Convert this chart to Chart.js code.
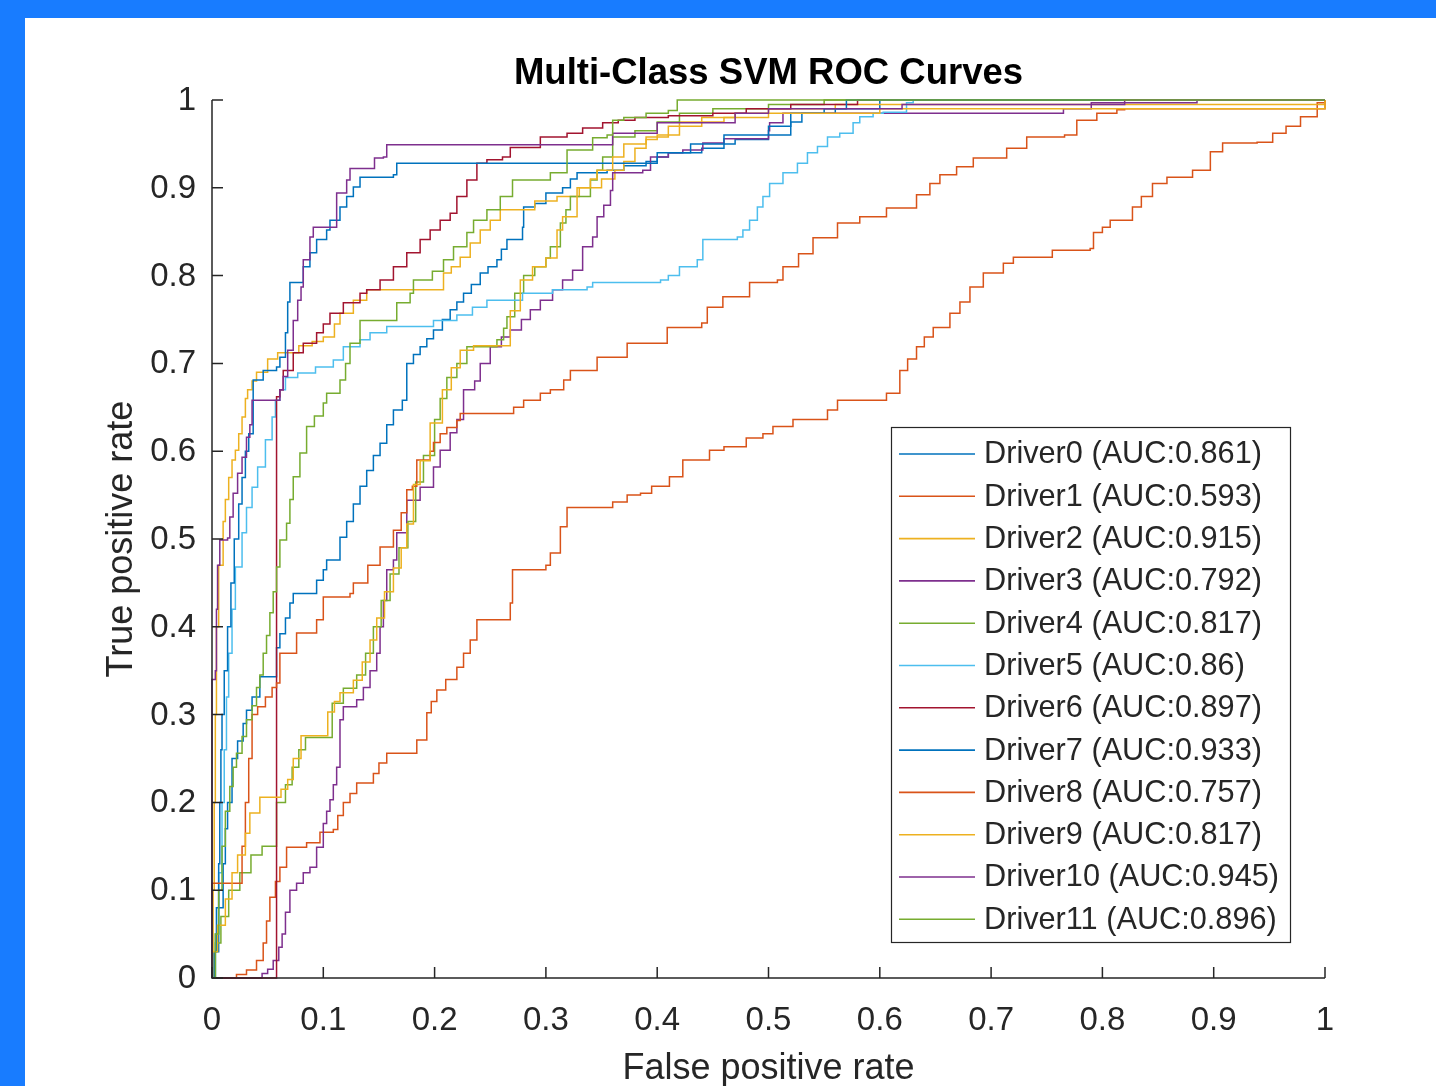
<!DOCTYPE html>
<html>
<head>
<meta charset="utf-8">
<script src="https://cdn.jsdelivr.net/npm/chart.js@4.4.0/dist/chart.umd.min.js"></script>
<style>
  html, body { margin: 0; padding: 0; background: #187cff; }
  body { width: 1436px; height: 1086px; overflow: hidden; position: relative; }
  #frame { position: absolute; left: 25px; top: 18px; width: 1411px; height: 1068px; background: #fff; }
</style>
</head>
<body>
<div id="frame"><canvas id="rocChart" width="1411" height="1068"></canvas></div>
<script>
// class names and AUC values from the legend
var driverNames = ['Driver0', 'Driver1', 'Driver2', 'Driver3', 'Driver4', 'Driver5',
                   'Driver6', 'Driver7', 'Driver8', 'Driver9', 'Driver10', 'Driver11'];
var aucValues = [0.861, 0.593, 0.915, 0.792, 0.817, 0.86, 0.897, 0.933, 0.757, 0.817, 0.945, 0.896];

// ROC points [false positive rate, true positive rate]
var roc0 = [[0,0],[0.003,0.03],[0.006,0.08],[0.01,0.13],[0.012,0.17],[0.014,0.2],[0.018,0.25],[0.023,0.27],[0.028,0.29],[0.031,0.305],[0.036,0.32],[0.043,0.343],[0.052,0.343],[0.058,0.376],[0.061,0.392],[0.066,0.41],[0.07,0.427],[0.073,0.438],[0.091,0.438],[0.094,0.453],[0.1,0.465],[0.103,0.476],[0.112,0.476],[0.115,0.502],[0.121,0.52],[0.127,0.54],[0.133,0.56],[0.139,0.578],[0.145,0.595],[0.151,0.609],[0.157,0.63],[0.163,0.647],[0.171,0.658],[0.175,0.7],[0.181,0.71],[0.187,0.719],[0.193,0.728],[0.199,0.738],[0.207,0.75],[0.214,0.761],[0.22,0.77],[0.226,0.78],[0.233,0.79],[0.241,0.803],[0.248,0.81],[0.256,0.818],[0.26,0.83],[0.265,0.841],[0.279,0.855],[0.28,0.878],[0.29,0.882],[0.3,0.894],[0.315,0.9],[0.322,0.91],[0.328,0.917],[0.355,0.92],[0.37,0.925],[0.39,0.93],[0.4,0.935],[0.41,0.94],[0.44,0.945],[0.46,0.95],[0.47,0.955],[0.5,0.96],[0.52,0.975],[0.53,0.985],[0.56,0.99],[0.6,1],[1,1]];
var roc1 = [[0,0],[0.015,0],[0.022,0.004],[0.031,0.009],[0.04,0.02],[0.046,0.04],[0.049,0.065],[0.052,0.092],[0.057,0.11],[0.061,0.126],[0.067,0.149],[0.085,0.154],[0.097,0.166],[0.109,0.169],[0.113,0.185],[0.118,0.2],[0.124,0.21],[0.13,0.222],[0.145,0.233],[0.15,0.245],[0.157,0.256],[0.184,0.271],[0.193,0.302],[0.197,0.315],[0.202,0.328],[0.21,0.34],[0.22,0.354],[0.226,0.37],[0.232,0.385],[0.238,0.408],[0.268,0.427],[0.27,0.465],[0.3,0.47],[0.304,0.484],[0.313,0.514],[0.319,0.536],[0.351,0.536],[0.36,0.542],[0.373,0.55],[0.385,0.552],[0.395,0.56],[0.411,0.571],[0.423,0.59],[0.447,0.601],[0.46,0.605],[0.48,0.615],[0.495,0.62],[0.504,0.628],[0.522,0.636],[0.553,0.647],[0.562,0.658],[0.606,0.666],[0.618,0.692],[0.625,0.705],[0.633,0.719],[0.64,0.73],[0.648,0.741],[0.663,0.757],[0.672,0.77],[0.681,0.787],[0.693,0.803],[0.711,0.814],[0.72,0.821],[0.755,0.829],[0.789,0.831],[0.792,0.849],[0.8,0.855],[0.807,0.863],[0.827,0.878],[0.835,0.89],[0.845,0.905],[0.858,0.912],[0.881,0.92],[0.897,0.941],[0.908,0.951],[0.939,0.952],[0.953,0.962],[0.965,0.97],[0.978,0.981],[0.993,0.997],[1,1]];
var roc2 = [[0,0],[0.001,0.1],[0.002,0.2],[0.003,0.3],[0.004,0.4],[0.006,0.47],[0.01,0.52],[0.012,0.545],[0.015,0.57],[0.018,0.59],[0.021,0.601],[0.024,0.62],[0.027,0.639],[0.03,0.66],[0.032,0.67],[0.036,0.68],[0.04,0.69],[0.046,0.69],[0.05,0.705],[0.059,0.712],[0.07,0.712],[0.078,0.72],[0.09,0.725],[0.1,0.73],[0.11,0.745],[0.115,0.757],[0.127,0.772],[0.139,0.784],[0.205,0.784],[0.208,0.803],[0.215,0.81],[0.223,0.821],[0.232,0.837],[0.241,0.852],[0.25,0.863],[0.259,0.875],[0.29,0.885],[0.31,0.89],[0.33,0.9],[0.35,0.91],[0.362,0.92],[0.37,0.93],[0.38,0.945],[0.39,0.955],[0.4,0.96],[0.42,0.975],[0.44,0.98],[0.47,0.985],[0.5,0.99],[0.56,0.995],[0.995,0.995],[1,1]];
var roc3 = [[0,0],[0.04,0],[0.045,0.005],[0.05,0.01],[0.055,0.02],[0.06,0.035],[0.063,0.05],[0.066,0.075],[0.07,0.1],[0.076,0.108],[0.082,0.12],[0.088,0.126],[0.094,0.149],[0.1,0.176],[0.103,0.19],[0.106,0.203],[0.109,0.22],[0.112,0.24],[0.115,0.294],[0.118,0.309],[0.13,0.317],[0.136,0.331],[0.142,0.35],[0.148,0.37],[0.151,0.4],[0.154,0.43],[0.157,0.465],[0.163,0.476],[0.166,0.507],[0.175,0.544],[0.187,0.559],[0.199,0.582],[0.205,0.601],[0.214,0.621],[0.22,0.636],[0.226,0.67],[0.236,0.68],[0.241,0.7],[0.25,0.719],[0.26,0.73],[0.268,0.738],[0.278,0.75],[0.286,0.761],[0.295,0.772],[0.306,0.784],[0.315,0.795],[0.324,0.806],[0.333,0.833],[0.342,0.844],[0.346,0.867],[0.352,0.88],[0.358,0.897],[0.36,0.917],[0.387,0.92],[0.394,0.935],[0.41,0.94],[0.423,0.943],[0.441,0.951],[0.46,0.956],[0.5,0.965],[0.501,0.974],[0.513,0.985],[0.765,0.985],[0.765,0.99],[0.79,0.99],[0.79,0.997],[0.885,0.997],[0.885,1],[1,1]];
var roc4 = [[0,0],[0.003,0.04],[0.008,0.07],[0.015,0.1],[0.025,0.12],[0.035,0.14],[0.045,0.15],[0.058,0.16],[0.058,0.2],[0.066,0.22],[0.072,0.24],[0.078,0.26],[0.084,0.274],[0.102,0.274],[0.108,0.313],[0.118,0.33],[0.13,0.345],[0.138,0.37],[0.145,0.4],[0.152,0.43],[0.16,0.46],[0.168,0.49],[0.176,0.52],[0.183,0.565],[0.19,0.595],[0.2,0.636],[0.205,0.66],[0.211,0.684],[0.22,0.7],[0.229,0.719],[0.256,0.727],[0.262,0.74],[0.265,0.753],[0.272,0.78],[0.28,0.8],[0.29,0.81],[0.3,0.82],[0.304,0.833],[0.313,0.86],[0.318,0.875],[0.322,0.89],[0.34,0.909],[0.346,0.92],[0.351,0.935],[0.36,0.958],[0.38,0.965],[0.4,0.975],[0.42,0.985],[0.45,0.99],[0.5,0.995],[0.55,1],[1,1]];
var roc5 = [[0,0],[0.003,0.05],[0.006,0.12],[0.009,0.2],[0.011,0.26],[0.013,0.32],[0.015,0.37],[0.018,0.42],[0.021,0.468],[0.027,0.507],[0.031,0.536],[0.036,0.559],[0.041,0.582],[0.048,0.613],[0.054,0.639],[0.057,0.658],[0.061,0.67],[0.066,0.684],[0.077,0.689],[0.093,0.696],[0.109,0.704],[0.118,0.719],[0.133,0.727],[0.142,0.735],[0.157,0.742],[0.199,0.749],[0.22,0.755],[0.234,0.764],[0.247,0.772],[0.27,0.772],[0.279,0.78],[0.306,0.784],[0.337,0.787],[0.342,0.792],[0.4,0.792],[0.403,0.795],[0.41,0.8],[0.42,0.81],[0.436,0.818],[0.441,0.841],[0.472,0.844],[0.477,0.852],[0.483,0.863],[0.49,0.878],[0.495,0.89],[0.501,0.905],[0.513,0.917],[0.526,0.928],[0.535,0.94],[0.544,0.947],[0.553,0.958],[0.564,0.962],[0.576,0.974],[0.582,0.981],[0.594,0.985],[0.603,0.986],[0.624,0.997],[0.63,1],[1,1]];
var roc6 = [[0,0],[0.058,0],[0.058,0.662],[0.061,0.67],[0.064,0.692],[0.073,0.712],[0.082,0.723],[0.094,0.735],[0.1,0.745],[0.106,0.757],[0.118,0.769],[0.133,0.78],[0.139,0.784],[0.151,0.795],[0.163,0.81],[0.175,0.826],[0.187,0.841],[0.196,0.852],[0.205,0.863],[0.214,0.871],[0.22,0.89],[0.229,0.909],[0.238,0.928],[0.247,0.932],[0.261,0.935],[0.268,0.946],[0.283,0.946],[0.295,0.958],[0.319,0.962],[0.333,0.968],[0.351,0.974],[0.365,0.977],[0.38,0.98],[0.41,0.982],[0.45,0.985],[0.48,0.99],[0.52,0.995],[0.56,0.995],[0.58,1],[1,1]];
var roc7 = [[0,0],[0.002,0.03],[0.004,0.08],[0.006,0.13],[0.007,0.2],[0.008,0.26],[0.009,0.3],[0.011,0.35],[0.014,0.4],[0.017,0.45],[0.02,0.5],[0.024,0.54],[0.027,0.57],[0.03,0.6],[0.033,0.62],[0.037,0.635],[0.037,0.681],[0.046,0.692],[0.058,0.696],[0.061,0.707],[0.066,0.735],[0.068,0.77],[0.07,0.792],[0.079,0.792],[0.082,0.81],[0.088,0.826],[0.094,0.841],[0.103,0.852],[0.106,0.863],[0.115,0.878],[0.121,0.89],[0.127,0.901],[0.133,0.912],[0.163,0.915],[0.166,0.928],[0.4,0.928],[0.4,0.94],[0.43,0.95],[0.46,0.96],[0.5,0.97],[0.52,0.985],[0.55,0.99],[0.57,1],[1,1]];
var roc8 = [[0,0],[0,0.108],[0.023,0.108],[0.027,0.15],[0.03,0.2],[0.033,0.25],[0.036,0.3],[0.041,0.309],[0.048,0.32],[0.054,0.331],[0.058,0.336],[0.061,0.37],[0.076,0.393],[0.094,0.408],[0.1,0.434],[0.124,0.438],[0.127,0.45],[0.14,0.47],[0.151,0.491],[0.163,0.51],[0.17,0.53],[0.175,0.556],[0.18,0.56],[0.184,0.59],[0.196,0.6],[0.199,0.61],[0.205,0.62],[0.211,0.627],[0.22,0.635],[0.223,0.643],[0.268,0.643],[0.271,0.65],[0.28,0.658],[0.295,0.666],[0.304,0.67],[0.316,0.681],[0.322,0.692],[0.346,0.707],[0.373,0.723],[0.409,0.741],[0.44,0.746],[0.445,0.764],[0.459,0.776],[0.483,0.792],[0.508,0.795],[0.513,0.81],[0.527,0.825],[0.54,0.843],[0.562,0.86],[0.582,0.867],[0.606,0.877],[0.633,0.892],[0.645,0.905],[0.654,0.915],[0.669,0.924],[0.684,0.934],[0.714,0.945],[0.732,0.958],[0.766,0.96],[0.777,0.977],[0.795,0.985],[0.813,0.989],[0.82,0.99],[0.99,0.99],[1,1]];
var roc9 = [[0,0],[0,0.03],[0.005,0.06],[0.012,0.09],[0.018,0.12],[0.023,0.14],[0.03,0.165],[0.034,0.188],[0.043,0.188],[0.043,0.206],[0.057,0.206],[0.062,0.215],[0.068,0.226],[0.073,0.25],[0.08,0.276],[0.1,0.276],[0.104,0.303],[0.11,0.315],[0.115,0.325],[0.127,0.339],[0.135,0.36],[0.142,0.385],[0.148,0.41],[0.155,0.44],[0.163,0.467],[0.17,0.49],[0.175,0.517],[0.181,0.562],[0.187,0.589],[0.196,0.632],[0.207,0.67],[0.215,0.695],[0.223,0.715],[0.235,0.72],[0.26,0.72],[0.268,0.76],[0.277,0.795],[0.288,0.81],[0.3,0.82],[0.31,0.852],[0.315,0.867],[0.328,0.9],[0.34,0.91],[0.346,0.92],[0.36,0.935],[0.37,0.95],[0.39,0.958],[0.41,0.97],[0.44,0.975],[0.46,0.98],[0.5,0.985],[0.6,0.99],[0.99,0.99],[1,1]];
var roc10 = [[0,0],[0,0.34],[0.003,0.35],[0.004,0.42],[0.005,0.47],[0.007,0.499],[0.014,0.501],[0.016,0.525],[0.019,0.552],[0.023,0.575],[0.027,0.593],[0.031,0.616],[0.034,0.63],[0.036,0.658],[0.057,0.658],[0.061,0.67],[0.064,0.685],[0.068,0.715],[0.073,0.749],[0.077,0.772],[0.08,0.787],[0.082,0.818],[0.088,0.844],[0.091,0.855],[0.109,0.855],[0.112,0.894],[0.121,0.909],[0.124,0.922],[0.145,0.922],[0.146,0.934],[0.154,0.935],[0.157,0.949],[0.358,0.949],[0.36,0.962],[0.4,0.962],[0.4,0.974],[0.47,0.974],[0.47,0.985],[0.5,0.99],[0.6,0.99],[0.62,0.995],[0.8,0.995],[0.82,1],[1,1]];
var roc11 = [[0,0],[0.003,0.05],[0.006,0.1],[0.009,0.15],[0.012,0.19],[0.016,0.218],[0.019,0.24],[0.022,0.256],[0.027,0.275],[0.031,0.294],[0.036,0.31],[0.04,0.331],[0.043,0.345],[0.046,0.37],[0.049,0.39],[0.052,0.416],[0.055,0.44],[0.058,0.468],[0.061,0.499],[0.067,0.518],[0.07,0.545],[0.073,0.571],[0.079,0.598],[0.085,0.628],[0.092,0.64],[0.1,0.655],[0.103,0.666],[0.115,0.681],[0.12,0.7],[0.124,0.723],[0.133,0.749],[0.163,0.749],[0.166,0.769],[0.178,0.78],[0.181,0.795],[0.198,0.805],[0.208,0.818],[0.217,0.833],[0.229,0.849],[0.235,0.863],[0.247,0.875],[0.259,0.89],[0.27,0.909],[0.304,0.917],[0.319,0.943],[0.34,0.943],[0.342,0.957],[0.355,0.96],[0.36,0.977],[0.37,0.98],[0.39,0.985],[0.41,0.988],[0.418,1],[1,1]];

var rocCurves = [roc0, roc1, roc2, roc3, roc4, roc5, roc6, roc7, roc8, roc9, roc10, roc11];

// matlab default line order
var lineColors = ['#0072BD', '#D95319', '#EDB120', '#7E2F8E', '#77AC30', '#4DBEEE', '#A2142F'];
var axisColor = '#262626';
var fontFamily = '"Liberation Sans", Arial, Helvetica, sans-serif';

var datasets = rocCurves.map(function (pts, i) {
  return {
    label: driverNames[i] + ' (AUC:' + aucValues[i] + ')',
    data: pts.map(function (p) { return { x: p[0], y: p[1] }; }),
    borderColor: lineColors[i % lineColors.length],
    borderWidth: 1.5,
    pointRadius: 0,
    tension: 0,
    stepped: 'before',
    fill: false,
    clip: false,
    order: rocCurves.length - i
  };
});

function tickText(v) {
  return String(Number(v.toFixed(1)));
}

// axes, inward ticks, labels, title and legend in the matlab look
var matlabDecor = {
  id: 'matlabDecor',
  afterDraw: function (chart) {
    var ctx = chart.ctx;
    var xs = chart.scales.x, ys = chart.scales.y;
    var area = chart.chartArea;
    var x0 = xs.getPixelForValue(0), x1 = xs.getPixelForValue(1);
    var y0 = ys.getPixelForValue(0), y1 = ys.getPixelForValue(1);

    ctx.save();
    ctx.strokeStyle = axisColor;
    ctx.lineWidth = 1.5;
    ctx.beginPath();
    ctx.moveTo(x0, y1);
    ctx.lineTo(x0, y0);
    ctx.lineTo(x1, y0);
    ctx.stroke();

    ctx.beginPath();
    xs.ticks.forEach(function (t) {
      var px = xs.getPixelForValue(t.value);
      ctx.moveTo(px, y0);
      ctx.lineTo(px, y0 - 11);
    });
    ys.ticks.forEach(function (t) {
      var py = ys.getPixelForValue(t.value);
      ctx.moveTo(x0, py);
      ctx.lineTo(x0 + 11, py);
    });
    ctx.stroke();

    ctx.fillStyle = axisColor;
    ctx.font = '33px ' + fontFamily;
    ctx.textAlign = 'center';
    ctx.textBaseline = 'middle';
    xs.ticks.forEach(function (t) {
      ctx.fillText(tickText(t.value), xs.getPixelForValue(t.value), y0 + 43);
    });
    ctx.textAlign = 'right';
    ys.ticks.forEach(function (t) {
      ctx.fillText(tickText(t.value), x0 - 16, ys.getPixelForValue(t.value) + 1);
    });

    // axis titles
    ctx.font = '36px ' + fontFamily;
    ctx.textAlign = 'center';
    ctx.textBaseline = 'alphabetic';
    ctx.fillText('False positive rate', (area.left + area.right) / 2, 1061);
    ctx.save();
    ctx.translate(107, (area.top + area.bottom) / 2);
    ctx.rotate(-Math.PI / 2);
    ctx.fillText('True positive rate', 0, 0);
    ctx.restore();

    // title
    ctx.fillStyle = '#000';
    ctx.font = 'bold 36.5px ' + fontFamily;
    ctx.fillText('Multi-Class SVM ROC Curves', (area.left + area.right) / 2, 66);

    // legend box
    var lx = 866, ly = 409, lw = 399, lh = 515;
    ctx.fillStyle = '#fff';
    ctx.fillRect(lx, ly, lw, lh);
    ctx.strokeStyle = axisColor;
    ctx.lineWidth = 1.2;
    ctx.strokeRect(lx + 0.5, ly + 0.5, lw, lh);
    ctx.font = '30.7px ' + fontFamily;
    ctx.textAlign = 'left';
    ctx.textBaseline = 'middle';
    chart.data.datasets.forEach(function (ds, i) {
      var ey = 436 + i * 42.3;
      ctx.strokeStyle = ds.borderColor;
      ctx.lineWidth = 1.6;
      ctx.beginPath();
      ctx.moveTo(874, ey);
      ctx.lineTo(950, ey);
      ctx.stroke();
      ctx.fillStyle = axisColor;
      ctx.fillText(ds.label, 959, ey + 1);
    });
    ctx.restore();
  }
};

var ctx = document.getElementById('rocChart').getContext('2d');
var rocChart = new Chart(ctx, {
  type: 'line',
  data: { datasets: datasets },
  options: {
    responsive: false,
    animation: false,
    devicePixelRatio: 1,
    layout: { padding: { top: 82, right: 111, bottom: 0, left: 0 } },
    plugins: {
      legend: { display: false },
      title: { display: false },
      tooltip: { enabled: false }
    },
    scales: {
      x: {
        type: 'linear', min: 0, max: 1,
        grid: { display: false, drawTicks: false },
        border: { display: false },
        ticks: { display: false, stepSize: 0.1 },
        afterFit: function (s) { s.height = 108; }
      },
      y: {
        type: 'linear', min: 0, max: 1,
        grid: { display: false, drawTicks: false },
        border: { display: false },
        ticks: { display: false, stepSize: 0.1 },
        afterFit: function (s) { s.width = 187; }
      }
    }
  },
  plugins: [matlabDecor]
});
</script>
</body>
</html>
